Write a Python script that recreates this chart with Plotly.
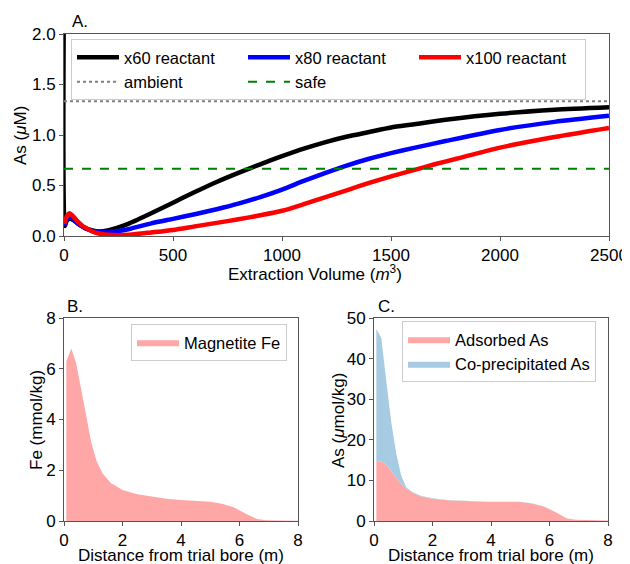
import plotly.graph_objects as go

# ---------------- Panel A data ----------------
vol_x60 = [0, 4, 12, 25, 40, 60, 80, 100, 130, 160, 200, 250, 300, 400, 500, 600, 700, 800, 900, 1000,
           1100, 1200, 1300, 1400, 1500, 1600, 1750, 2000, 2250, 2500]
as_x60 = [2.6, 0.10, 0.15, 0.17, 0.16, 0.13, 0.10, 0.075, 0.055, 0.045, 0.055, 0.085, 0.125, 0.225, 0.33,
          0.435, 0.535, 0.625, 0.71, 0.79, 0.865, 0.93, 0.985, 1.03, 1.075, 1.105, 1.15, 1.21, 1.25, 1.275]

vol_x80 = [2, 12, 25, 40, 60, 80, 100, 130, 160, 200, 250, 300, 400, 500, 600, 700, 800, 900, 1000,
           1100, 1200, 1300, 1400, 1500, 1600, 1750, 2000, 2250, 2500]
as_x80 = [0.10, 0.16, 0.19, 0.17, 0.13, 0.10, 0.075, 0.05, 0.04, 0.04, 0.05, 0.07, 0.125, 0.17, 0.215,
          0.265, 0.32, 0.385, 0.46, 0.545, 0.625, 0.70, 0.765, 0.82, 0.87, 0.94, 1.05, 1.13, 1.19]

vol_x100 = [2, 12, 25, 40, 60, 80, 100, 130, 160, 200, 250, 300, 400, 500, 600, 700, 800, 900, 1000,
            1100, 1200, 1300, 1400, 1500, 1600, 1700, 1800, 2000, 2250, 2500]
as_x100 = [0.12, 0.19, 0.225, 0.20, 0.15, 0.11, 0.08, 0.045, 0.025, 0.012, 0.008, 0.012, 0.035, 0.06, 0.095,
           0.13, 0.165, 0.205, 0.25, 0.315, 0.385, 0.455, 0.525, 0.59, 0.65, 0.71, 0.765, 0.875, 0.98, 1.07]

ambient_level = 1.333
safe_level = 0.667
vol_range = [0, 2500]

# ---------------- Panels B / C data ----------------
dist = [0.08, 0.25, 0.42, 0.59, 0.76, 0.93, 1.1, 1.3, 1.6, 2.0, 2.5, 3.0, 3.5, 4.0, 4.5, 5.0,
        5.4, 5.8, 6.2, 6.6, 6.9, 7.3, 8.0]
magnetite_fe = [6.3, 6.8, 6.2, 5.2, 4.1, 3.1, 2.4, 1.9, 1.5, 1.22, 1.05, 0.95, 0.88, 0.83, 0.79, 0.76,
                0.68, 0.54, 0.30, 0.08, 0.03, 0.02, 0.01]
adsorbed_as = [14.7, 14.7, 13.8, 12.3, 10.6, 9.2, 8.0, 7.0, 6.1, 5.5, 5.1, 4.9, 4.8, 4.7, 4.65, 4.7,
               4.3, 3.6, 2.2, 0.6, 0.3, 0.2, 0.1]
coprecip_as = [32.6, 30.4, 20.7, 12.0, 6.0, 2.0, 0.3, 0.2, 0.1, 0.08, 0.06, 0.05, 0.05, 0.05, 0.05, 0.05,
               0.05, 0.04, 0.03, 0.02, 0.01, 0.01, 0.0]

FONT = "Liberation Sans, Arial, sans-serif"
FS = 17
LFS = 16.5
AX = "#555555"

fig = go.Figure()

for xs, ys, col, name in [(vol_x60, as_x60, "black", "x60 reactant"),
                          (vol_x80, as_x80, "#0000ff", "x80 reactant"),
                          (vol_x100, as_x100, "#ff0000", "x100 reactant")]:
    fig.add_trace(go.Scatter(x=xs, y=ys, mode="lines", name=name,
                             line=dict(color=col, width=4.5, shape="spline", smoothing=0.7),
                             xaxis="x", yaxis="y", legend="legend"))

fig.add_trace(go.Scatter(x=vol_range, y=[ambient_level] * 2, mode="lines", name="ambient",
                         line=dict(color="#808080", width=2, dash="dot"), xaxis="x", yaxis="y", legend="legend"))
fig.add_trace(go.Scatter(x=vol_range, y=[safe_level] * 2, mode="lines", name="safe",
                         line=dict(color="#008000", width=2, dash="dash"), xaxis="x", yaxis="y", legend="legend"))

RED_FILL = "#ffa6a6"
BLUE_FILL = "#a6cbe3"

fig.add_trace(go.Scatter(x=dist, y=magnetite_fe, mode="lines", fill="tozeroy", name="Magnetite Fe",
                         fillcolor=RED_FILL, line=dict(width=0, color=RED_FILL),
                         xaxis="x2", yaxis="y2", legend="legend2"))

fig.add_trace(go.Scatter(x=dist, y=adsorbed_as, mode="lines", stackgroup="c", name="Adsorbed As",
                         fillcolor=RED_FILL, line=dict(width=0, color=RED_FILL),
                         xaxis="x3", yaxis="y3", legend="legend3"))
fig.add_trace(go.Scatter(x=dist, y=coprecip_as, mode="lines", stackgroup="c", name="Co-precipitated As",
                         fillcolor=BLUE_FILL, line=dict(width=0, color=BLUE_FILL),
                         xaxis="x3", yaxis="y3", legend="legend3"))

# page body has an 8px margin: figure drawn at (8, 8) on screen
OFF = 8
W, H = 630 - OFF, 564 - OFF


def px(x):
    return (x - OFF) / W


def py(y):
    return 1 - (y - OFF) / H


def dx(a, b):
    return [px(a), px(b)]


def dy(top, bottom):
    return [py(bottom), py(top)]


axis_common = dict(showline=True, linecolor=AX, linewidth=1, mirror=True, ticks="outside",
                   ticklen=4, tickcolor=AX, showgrid=False, zeroline=False, automargin=False,
                   tickfont=dict(size=FS, color="black", family=FONT))


def label(text, x, y, angle=0, size=FS):
    return dict(text=text, x=px(x), y=py(y), xref="paper", yref="paper",
                xanchor="center", yanchor="middle", textangle=angle, showarrow=False,
                font=dict(size=size, family=FONT, color="black"))


fig.update_layout(
    width=W, height=H,
    margin=dict(l=0, r=0, t=0, b=0, autoexpand=False),
    paper_bgcolor="white", plot_bgcolor="white",
    font=dict(family=FONT, size=FS, color="black"),
    xaxis=dict(domain=dx(64, 609), range=[0, 2500], tickvals=[0, 500, 1000, 1500, 2000, 2500],
               anchor="y", **axis_common),
    yaxis=dict(domain=dy(34, 236), range=[0, 2.0], tickvals=[0, 0.5, 1.0, 1.5, 2.0], tickformat=".1f",
               anchor="x", **axis_common),
    xaxis2=dict(domain=dx(64, 298), range=[0, 8], tickvals=[0, 2, 4, 6, 8], anchor="y2", **axis_common),
    yaxis2=dict(domain=dy(318, 521), range=[0, 8], tickvals=[0, 2, 4, 6, 8], anchor="x2", **axis_common),
    xaxis3=dict(domain=dx(374, 608), range=[0, 8], tickvals=[0, 2, 4, 6, 8], anchor="y3", **axis_common),
    yaxis3=dict(domain=dy(318, 521), range=[0, 50], tickvals=[0, 10, 20, 30, 40, 50], anchor="x3",
                **axis_common),
    legend=dict(x=px(71), y=py(39), xanchor="left", yanchor="top", orientation="h",
                entrywidth=114, bgcolor="white", bordercolor="#cccccc", borderwidth=1,
                font=dict(size=LFS, family=FONT), itemwidth=42, tracegroupgap=0),
    legend2=dict(x=px(131), y=py(324), xanchor="left", yanchor="top",
                 bgcolor="white", bordercolor="#cccccc", borderwidth=1,
                 font=dict(size=LFS, family=FONT), itemwidth=42),
    legend3=dict(x=px(402), y=py(321), xanchor="left", yanchor="top",
                 bgcolor="white", bordercolor="#cccccc", borderwidth=1,
                 font=dict(size=LFS, family=FONT), itemwidth=42, traceorder="normal"),
    annotations=[
        label("A.", 80, 22),
        label("B.", 75, 306),
        label("C.", 386, 306),
        label("Extraction Volume (<i>m</i><sup>3</sup>)", 315, 273),
        label("As (<i>μ</i>M)", 20, 136, angle=-90),
        label("Distance from trial bore (m)", 181, 555),
        label("Distance from trial bore (m)", 491, 555),
        label("Fe (mmol/kg)", 37, 420, angle=-90),
        label("As (<i>μ</i>mol/kg)", 338, 421, angle=-90),
    ],
)

fig.write_html("out.html")
